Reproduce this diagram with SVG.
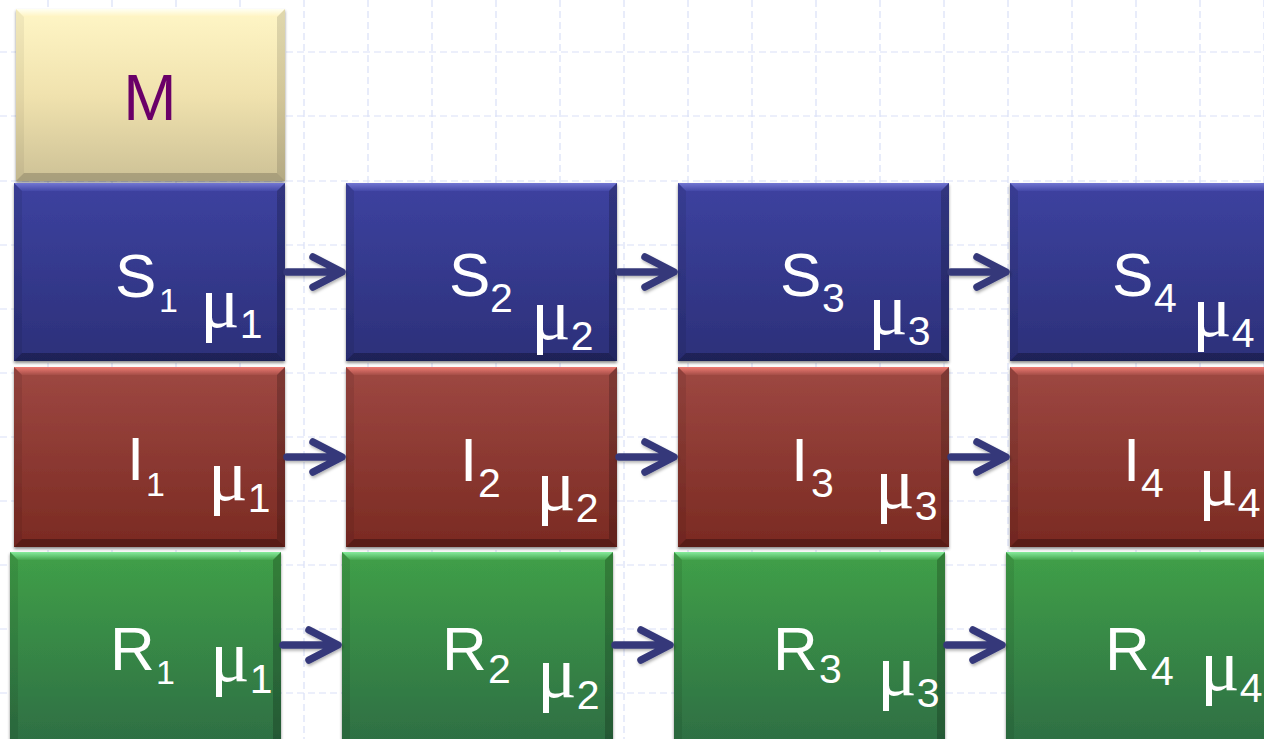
<svg xmlns="http://www.w3.org/2000/svg" xmlns:xlink="http://www.w3.org/1999/xlink" width="1264" height="739" viewBox="0 0 1264 739">
<style>
.grid{fill:none;stroke:#D9E0F7;stroke-width:1.2;stroke-dasharray:7 4}
.lbl{font-family:"Liberation Sans",Arial,sans-serif;fill:#FFFFFF}
.big{font-size:62px}
.sub1{font-size:34px}
.sub{font-size:41px;font-family:"Liberation Sans",Arial,sans-serif}
.mu{font-family:"Liberation Serif","Times New Roman",serif;font-size:74px}
.mlbl{font-family:"Liberation Sans",Arial,sans-serif;font-size:64px;fill:#6B0068}
.arr{fill:none;stroke:#35397A;stroke-width:7.5;stroke-linecap:round;stroke-linejoin:round}
</style>
<defs>
<filter id="sh" x="-5%" y="-5%" width="110%" height="115%">
<feDropShadow dx="0" dy="2" stdDeviation="1.5" flood-color="#000" flood-opacity="0.45"/>
</filter>
<filter id="ash" x="-20%" y="-30%" width="140%" height="160%">
<feDropShadow dx="1" dy="2" stdDeviation="1.5" flood-color="#000" flood-opacity="0.3"/>
</filter>
<linearGradient id="gM" x1="0" y1="0" x2="0" y2="1"><stop offset="0" stop-color="#FFF6C6"/><stop offset="0.5" stop-color="#F0E2AE"/><stop offset="1" stop-color="#CDC196"/></linearGradient>
<linearGradient id="tM" x1="0" y1="0" x2="0" y2="1"><stop offset="0" stop-color="#FFFFF2"/><stop offset="1" stop-color="#FFF3C0"/></linearGradient>
<linearGradient id="gS" x1="0" y1="0" x2="0" y2="1"><stop offset="0" stop-color="#3D42A0"/><stop offset="1" stop-color="#2C3079"/></linearGradient>
<linearGradient id="tS" x1="0" y1="0" x2="0" y2="1"><stop offset="0" stop-color="#7276D2"/><stop offset="1" stop-color="#4449A8"/></linearGradient>
<linearGradient id="gI" x1="0" y1="0" x2="0" y2="1"><stop offset="0" stop-color="#9E4842"/><stop offset="1" stop-color="#7A2A22"/></linearGradient>
<linearGradient id="tI" x1="0" y1="0" x2="0" y2="1"><stop offset="0" stop-color="#EE7A72"/><stop offset="1" stop-color="#A54E48"/></linearGradient>
<linearGradient id="gR" x1="0" y1="0" x2="0" y2="1"><stop offset="0" stop-color="#40A048"/><stop offset="1" stop-color="#2D6C43"/></linearGradient>
<linearGradient id="tR" x1="0" y1="0" x2="0" y2="1"><stop offset="0" stop-color="#86EC9C"/><stop offset="1" stop-color="#45A54E"/></linearGradient>
<g id="boxM">
<rect x="0" y="0" width="269" height="172" fill="url(#gM)"/>
<polygon points="0,0 269,0 261,8 8,8" fill="url(#tM)"/>
<polygon points="0,0 8,8 8,164 0,172" fill="#000" fill-opacity="0.05"/>
<polygon points="269,0 269,172 261,164 261,8" fill="#000" fill-opacity="0.12"/>
<polygon points="0,172 8,164 261,164 269,172" fill="#000" fill-opacity="0.18"/>
</g>
<g id="boxS">
<rect x="0" y="0" width="271" height="178" fill="url(#gS)"/>
<polygon points="0,0 271,0 263,8 8,8" fill="url(#tS)"/>
<polygon points="0,0 8,8 8,170 0,178" fill="#000" fill-opacity="0.08"/>
<polygon points="271,0 271,178 263,170 263,8" fill="#000" fill-opacity="0.2"/>
<polygon points="0,178 8,170 263,170 271,178" fill="#000" fill-opacity="0.28"/>
</g>
<g id="boxI">
<rect x="0" y="0" width="271" height="180" fill="url(#gI)"/>
<polygon points="0,0 271,0 263,8 8,8" fill="url(#tI)"/>
<polygon points="0,0 8,8 8,172 0,180" fill="#000" fill-opacity="0.08"/>
<polygon points="271,0 271,180 263,172 263,8" fill="#000" fill-opacity="0.2"/>
<polygon points="0,180 8,172 263,172 271,180" fill="#000" fill-opacity="0.28"/>
</g>
<g id="boxR">
<rect x="0" y="0" width="271" height="200" fill="url(#gR)"/>
<polygon points="0,0 271,0 263,8 8,8" fill="url(#tR)"/>
<polygon points="0,0 8,8 8,192 0,200" fill="#000" fill-opacity="0.08"/>
<polygon points="271,0 271,200 263,192 263,8" fill="#000" fill-opacity="0.2"/>
</g>
</defs>
<rect x="0" y="0" width="1264" height="739" fill="#FFFFFF"/>
<g id="grid">
<path class="grid" d="M48,0V739M112,0V739M176,0V739M240,0V739M304,0V739M368,0V739M432,0V739M496,0V739M560,0V739M624,0V739M688,0V739M752,0V739M816,0V739M880,0V739M944,0V739M1008,0V739M1072,0V739M1136,0V739M1200,0V739M1264,0V739"/>
<path class="grid" d="M0,52H1264M0,116H1264M0,181H1264M0,245H1264M0,309H1264M0,373H1264M0,437H1264M0,501H1264M0,565H1264M0,629H1264M0,693H1264"/>
</g>
<g id="node-M" filter="url(#sh)"><use xlink:href="#boxM" href="#boxM" x="16" y="9"/><text class="mlbl" x="150" y="120" text-anchor="middle">M</text></g>

<g id="node-S1"><use xlink:href="#boxS" href="#boxS" x="14" y="183" filter="url(#sh)"/><text class="lbl"><tspan class="big" x="115" y="297">S</tspan><tspan class="sub1" x="159" y="312">1</tspan></text><text class="lbl"><tspan class="mu" x="200" y="327">μ</tspan><tspan class="sub" dy="11">1</tspan></text></g>
<g id="node-S2"><use xlink:href="#boxS" href="#boxS" x="346" y="183" filter="url(#sh)"/><text class="lbl"><tspan class="big" x="449" y="296">S</tspan><tspan class="sub" x="490" y="312">2</tspan></text><text class="lbl"><tspan class="mu" x="531" y="339">μ</tspan><tspan class="sub" dy="11">2</tspan></text></g>
<g id="node-S3"><use xlink:href="#boxS" href="#boxS" x="678" y="183" filter="url(#sh)"/><text class="lbl"><tspan class="big" x="780" y="296">S</tspan><tspan class="sub" x="822" y="312">3</tspan></text><text class="lbl"><tspan class="mu" x="868" y="334">μ</tspan><tspan class="sub" dy="11">3</tspan></text></g>
<g id="node-S4"><use xlink:href="#boxS" href="#boxS" x="1010" y="183" filter="url(#sh)"/><text class="lbl"><tspan class="big" x="1112" y="296">S</tspan><tspan class="sub" x="1154" y="312">4</tspan></text><text class="lbl"><tspan class="mu" x="1192" y="336">μ</tspan><tspan class="sub" dy="11">4</tspan></text></g>

<g id="node-I1"><use xlink:href="#boxI" href="#boxI" x="14" y="367" filter="url(#sh)"/><text class="lbl"><tspan class="big" x="127" y="480">I</tspan><tspan class="sub1" x="146" y="496">1</tspan></text><text class="lbl"><tspan class="mu" x="208" y="500">μ</tspan><tspan class="sub" dy="12">1</tspan></text></g>
<g id="node-I2"><use xlink:href="#boxI" href="#boxI" x="346" y="367" filter="url(#sh)"/><text class="lbl"><tspan class="big" x="460" y="481">I</tspan><tspan class="sub" x="478" y="497">2</tspan></text><text class="lbl"><tspan class="mu" x="536" y="510">μ</tspan><tspan class="sub" dy="12">2</tspan></text></g>
<g id="node-I3"><use xlink:href="#boxI" href="#boxI" x="678" y="367" filter="url(#sh)"/><text class="lbl"><tspan class="big" x="791" y="481">I</tspan><tspan class="sub" x="811" y="497">3</tspan></text><text class="lbl"><tspan class="mu" x="875" y="508">μ</tspan><tspan class="sub" dy="12">3</tspan></text></g>
<g id="node-I4"><use xlink:href="#boxI" href="#boxI" x="1010" y="367" filter="url(#sh)"/><text class="lbl"><tspan class="big" x="1123" y="481">I</tspan><tspan class="sub" x="1141" y="497">4</tspan></text><text class="lbl"><tspan class="mu" x="1198" y="505">μ</tspan><tspan class="sub" dy="12">4</tspan></text></g>

<g id="node-R1"><use xlink:href="#boxR" href="#boxR" x="10" y="552" filter="url(#sh)"/><text class="lbl"><tspan class="big" x="110" y="670">R</tspan><tspan class="sub1" x="156" y="684">1</tspan></text><text class="lbl"><tspan class="mu" x="210" y="681">μ</tspan><tspan class="sub" dy="12">1</tspan></text></g>
<g id="node-R2"><use xlink:href="#boxR" href="#boxR" x="342" y="552" filter="url(#sh)"/><text class="lbl"><tspan class="big" x="442" y="670">R</tspan><tspan class="sub" x="488" y="683">2</tspan></text><text class="lbl"><tspan class="mu" x="537" y="697">μ</tspan><tspan class="sub" dy="12">2</tspan></text></g>
<g id="node-R3"><use xlink:href="#boxR" href="#boxR" x="674" y="552" filter="url(#sh)"/><text class="lbl"><tspan class="big" x="773" y="670">R</tspan><tspan class="sub" x="819" y="683">3</tspan></text><text class="lbl"><tspan class="mu" x="877" y="695">μ</tspan><tspan class="sub" dy="12">3</tspan></text></g>
<g id="node-R4"><use xlink:href="#boxR" href="#boxR" x="1006" y="552" filter="url(#sh)"/><text class="lbl"><tspan class="big" x="1105" y="670">R</tspan><tspan class="sub" x="1151" y="685">4</tspan></text><text class="lbl"><tspan class="mu" x="1200" y="690">μ</tspan><tspan class="sub" dy="12">4</tspan></text></g>

<g id="connectors" filter="url(#ash)">
<path class="arr" d="M287,272H341M313,257L342,272L313,287"/>
<path class="arr" d="M619,272H673M645,257L674,272L645,287"/>
<path class="arr" d="M951,272H1005M977,257L1006,272L977,287"/>
<path class="arr" d="M287,457H341M313,442L342,457L313,472"/>
<path class="arr" d="M619,457H673M645,442L674,457L645,472"/>
<path class="arr" d="M951,457H1005M977,442L1006,457L977,472"/>
<path class="arr" d="M283,645H337M309,630L338,645L309,660"/>
<path class="arr" d="M615,645H669M641,630L670,645L641,660"/>
<path class="arr" d="M947,645H1001M973,630L1002,645L973,660"/>
</g>
</svg>
